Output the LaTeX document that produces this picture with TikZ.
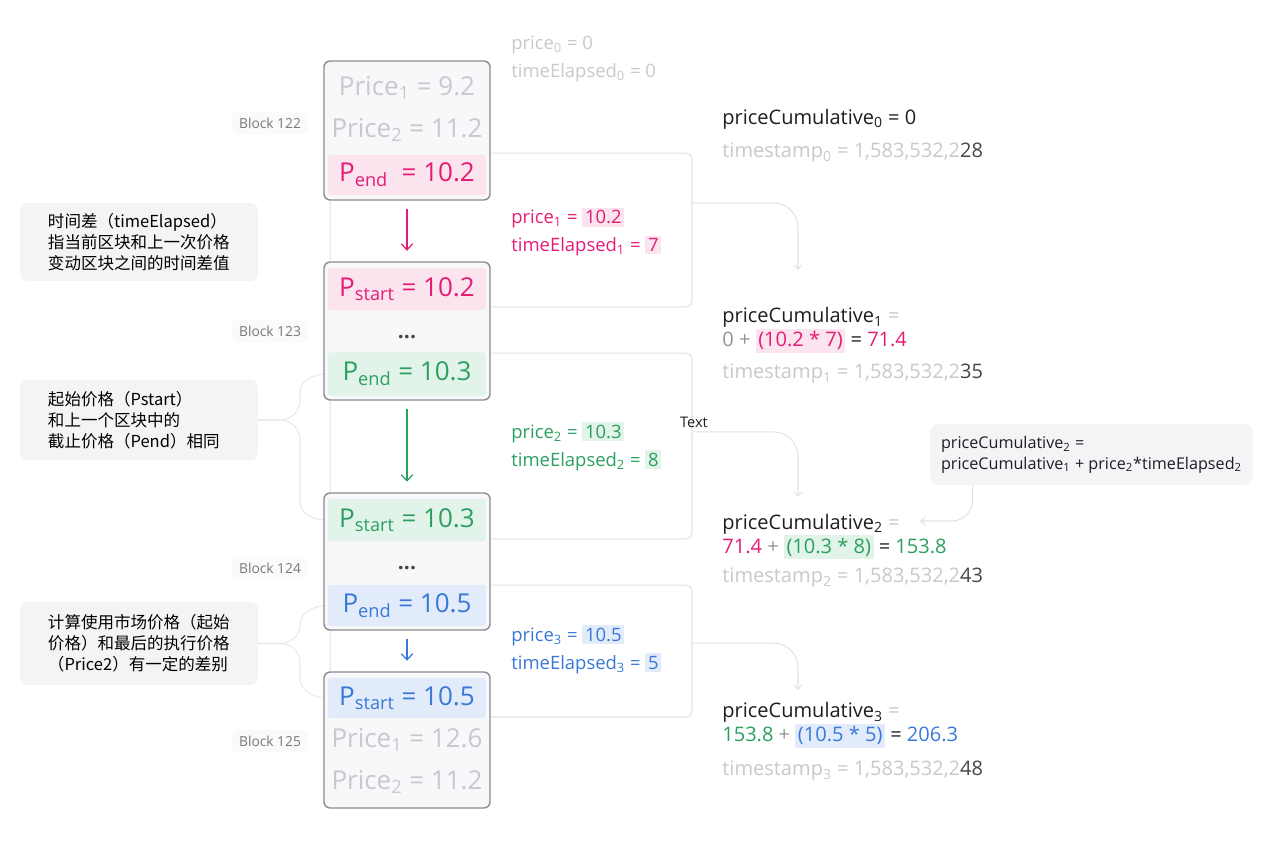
\documentclass[tikz,border=0pt]{standalone}
\usepackage{fontspec}
\setmainfont{Open Sans}
\newfontfamily\cjk{Noto Sans CJK SC}
\usetikzlibrary{arrows.meta, positioning, calc, backgrounds}
\usepackage{xcolor}
\definecolor{pinkc}{RGB}{228, 28, 118}
\definecolor{pinkfill}{RGB}{252, 228, 239}
\definecolor{greenc}{RGB}{44, 160, 96}
\definecolor{greenfill}{RGB}{226, 243, 233}
\definecolor{bluec}{RGB}{56, 120, 214}
\definecolor{bluefill}{RGB}{226, 235, 249}
\definecolor{fadegray}{RGB}{200, 200, 205}
\definecolor{midgray}{RGB}{120, 120, 124}
\definecolor{inkgray}{RGB}{30, 30, 34}
\definecolor{numgray}{RGB}{70, 70, 74}
\definecolor{linegray}{RGB}{226, 226, 230}
\definecolor{boxgray}{RGB}{140, 140, 144}
\definecolor{notefill}{RGB}{243, 244, 246}
\definecolor{blockfill}{RGB}{248, 248, 250}
\newcommand{\hl}[2]{{\setlength{\fboxsep}{1.5pt}\colorbox{#1}{#2}}}
\newcommand{\sz}[2]{\fontsize{#1}{#2}\selectfont}
\tikzset{
    block/.style={
        rectangle,
        rounded corners=3.5pt,
        draw=boxgray,
        line width=0.8pt,
        fill=blockfill,
        minimum width=94.5pt
    },
    band/.style={
        rectangle,
        rounded corners=1.5pt,
        minimum width=89.9pt,
        minimum height=22.8pt,
        inner sep=0pt,
        font=\sz{14.8}{17}
    },
    faded/.style={
        text=fadegray,
        inner sep=0pt,
        font=\sz{14.8}{17}
    },
    dots/.style={
        text=numgray,
        inner sep=0pt,
        font=\sz{12}{14}\bfseries
    },
    block label/.style={
        fill=notefill!50,
        rounded corners=3pt,
        text=midgray,
        inner xsep=4pt,
        inner ysep=3.5pt,
        font=\sz{7.85}{9}
    },
    note/.style={
        fill=notefill,
        rounded corners=4pt,
        minimum width=135.4pt,
        text width=103.6pt,
        align=left,
        font=\cjk\sz{9.4}{11.9}
    },
    span box/.style={
        rectangle,
        draw=linegray,
        line width=0.6pt,
        rounded corners=3.5pt,
        minimum width=206pt
    },
    step arrow/.style={
        -{Straight Barb[length=3.5pt,width=6.5pt]},
        line width=0.7pt,
        shorten <=4.5pt,
        shorten >=6pt
    },
    flow/.style={
        -{Straight Barb[length=2.5pt,width=4.5pt]},
        draw=linegray,
        line width=0.6pt,
        rounded corners=14pt
    },
    brace line/.style={
        draw=linegray!80,
        line width=0.6pt
    },
    side text/.style={
        anchor=west,
        inner sep=0pt,
        align=left,
        font=\sz{10.5}{15.9}
    },
    sum text/.style={
        anchor=west,
        inner sep=0pt,
        align=left,
        text=inkgray,
        font=\sz{11.4}{13.7}
    }
}

\begin{document}
\begin{tikzpicture}[x=0.02cm, y=-0.02cm]
\useasboundingbox (0,0) rectangle (1277,859);

% === SPANS between blocks ===
\node[span box, minimum height=87.6pt] (span_1) at (511,230) {};
\node[span box, minimum height=105.8pt] (span_2) at (511,446) {};
\node[span box, minimum height=75.1pt] (span_3) at (511,651) {};

% === BLOCKS ===

% Block 122
\node[block, minimum height=79.1pt] (block_122) at (407,130.5) {};
\node[faded] (price_1_122) at (407,88) {Price\textsubscript{1} = 9.2};
\node[faded] (price_2_122) at (407,130) {Price\textsubscript{2} = 11.2};
\node[band, fill=pinkfill, text=pinkc] (p_end_122) at (407,175) {P\textsubscript{end}\ \ = 10.2};

% Block 123
\node[block, minimum height=78.5pt] (block_123) at (407,331) {};
\node[band, fill=pinkfill, text=pinkc, minimum height=23.9pt] (p_start_123) at (407,289) {P\textsubscript{start} = 10.2};
\node[dots] (dots_123) at (407,337) {...};
\node[band, fill=greenfill, text=greenc, minimum height=24.5pt] (p_end_123) at (407,374) {P\textsubscript{end} = 10.3};

% Block 124
\node[block, minimum height=78pt] (block_124) at (407,561.5) {};
\node[band, fill=greenfill, text=greenc, minimum height=23.9pt] (p_start_124) at (407,520) {P\textsubscript{start} = 10.3};
\node[dots] (dots_124) at (407,568) {...};
\node[band, fill=bluefill, text=bluec, minimum height=23.4pt] (p_end_124) at (407,605.5) {P\textsubscript{end} = 10.5};

% Block 125
\node[block, minimum height=77.4pt] (block_125) at (407,740) {};
\node[band, fill=bluefill, text=bluec] (p_start_125) at (407,698) {P\textsubscript{start} = 10.5};
\node[faded] (price_1_125) at (407,740) {Price\textsubscript{1} = 12.6};
\node[faded] (price_2_125) at (407,782) {Price\textsubscript{2} = 11.2};

% Block labels
\node[block label] (label_122) at (270,123) {Block 122};
\node[block label] (label_123) at (270,331) {Block 123};
\node[block label] (label_124) at (270,568) {Block 124};
\node[block label] (label_125) at (270,741) {Block 125};

% === STEP ARROWS ===
\draw[step arrow, pinkc] (block_122) -- (block_123);
\draw[step arrow, greenc] (block_123) -- (block_124);
\draw[step arrow, bluec] (block_124) -- (block_125);

% === NOTES ===
\node[note, minimum height=44.4pt] (note_1) at (139,242) {
    时间差（timeElapsed）\\
    指当前区块和上一次价格\\
    变动区块之间的时间差值
};

\node[note, minimum height=45.5pt] (note_2) at (139,420) {
    起始价格（Pstart）\\
    和上一个区块中的\\
    截止价格（Pend）相同
};

\node[note, minimum height=47.2pt] (note_3) at (139,643.5) {
    计算使用市场价格（起始\\
    价格）和最后的执行价格\\
    （Price2）有一定的差别
};

% Braces from notes to blocks
\begin{scope}[on background layer]
\draw[brace line] (note_2.east) -- (280,420) to[out=0,in=-90] (300,400)
    -- (300,392) to[out=90,in=180] (p_end_123.west);
\draw[brace line] (note_2.east) -- (280,420) to[out=0,in=90] (300,440)
    -- (300,502) to[out=-90,in=180] (p_start_124.west);
\draw[brace line] (note_3.east) -- (280,643.5) to[out=0,in=-90] (300,625)
    to[out=90,in=180] (p_end_124.west);
\draw[brace line] (note_3.east) -- (280,643.5) to[out=0,in=90] (300,662)
    -- (300,678) to[out=-90,in=180] (p_start_125.west);
\end{scope}

% === PRICE / TIME ELAPSED ===
\node[side text, text=fadegray] (price_0) at (511,59) {
    price\textsubscript{0} = 0\\
    timeElapsed\textsubscript{0} = 0
};
\node[side text, text=pinkc] (price_1) at (511,232) {
    price\textsubscript{1} = \hl{pinkfill}{10.2}\\
    timeElapsed\textsubscript{1} = \hl{pinkfill}{7}
};
\node[side text, text=greenc] (price_2) at (511,446.5) {
    price\textsubscript{2} = \hl{greenfill}{10.3}\\
    timeElapsed\textsubscript{2} = \hl{greenfill}{8}
};
\node[side text, text=bluec] (price_3) at (511,649.5) {
    price\textsubscript{3} = \hl{bluefill}{10.5}\\
    timeElapsed\textsubscript{3} = \hl{bluefill}{5}
};

% === CUMULATIVE PRICES ===
\node[sum text] (cum_0) at (722,119) {priceCumulative\textsubscript{0} = 0};
\node[sum text] (stamp_0) at (722,153) {\textcolor{fadegray}{timestamp\textsubscript{0} = 1,583,532,2}\textcolor{numgray}{28}};

\node[sum text] (cum_1) at (722,330) {
    priceCumulative\textsubscript{1} \textcolor{fadegray}{=}\\
    \textcolor{midgray!80}{0 +} \textcolor{pinkc}{\hl{pinkfill}{(10.2 * 7)}} = \textcolor{pinkc}{71.4}
};
\node[sum text] (stamp_1) at (722,374) {\textcolor{fadegray}{timestamp\textsubscript{1} = 1,583,532,2}\textcolor{numgray}{35}};

\node[sum text] (cum_2) at (722,536.5) {
    priceCumulative\textsubscript{2} \textcolor{fadegray}{=}\\
    \textcolor{pinkc}{71.4} \textcolor{midgray!80}{+} \textcolor{greenc}{\hl{greenfill}{(10.3 * 8)}} = \textcolor{greenc}{153.8}
};
\node[sum text] (stamp_2) at (722,578) {\textcolor{fadegray}{timestamp\textsubscript{2} = 1,583,532,2}\textcolor{numgray}{43}};

\node[sum text] (cum_3) at (722,725) {
    priceCumulative\textsubscript{3} \textcolor{fadegray}{=}\\
    \textcolor{greenc}{153.8} \textcolor{midgray!80}{+} \textcolor{bluec}{\hl{bluefill}{(10.5 * 5)}} = \textcolor{bluec}{206.3}
};
\node[sum text] (stamp_3) at (722,771) {\textcolor{fadegray}{timestamp\textsubscript{3} = 1,583,532,2}\textcolor{numgray}{48}};

% === FLOW CONNECTORS ===
\coordinate (in_1) at (798,270);
\coordinate (in_2) at (798,497);
\coordinate (in_3) at (798,690);
\draw[flow] ([yshift=15.4pt]span_1.east) -| (in_1);
\draw[flow] ([yshift=8pt]span_2.east) -| (in_2);
\draw[flow] ([yshift=4.5pt]span_3.east) -| (in_3);

\node[font=\sz{8.3}{10}, text=inkgray, inner sep=0pt] (text_tag) at (694,422) {Text};

% Formula callout
\node[fill=notefill, rounded corners=5pt, minimum width=183.8pt, minimum height=34.7pt,
      align=left, text=inkgray, font=\sz{9.2}{11.9}] (callout) at (1091.5,454.5) {
    priceCumulative\textsubscript{2} =\\
    priceCumulative\textsubscript{1} + price\textsubscript{2}*timeElapsed\textsubscript{2}
};
\coordinate (in_cum_2) at (920,521);
\draw[flow, rounded corners=12pt] ($(callout.south west)+(43,0)$) |- (in_cum_2);

\end{tikzpicture}
\end{document}
